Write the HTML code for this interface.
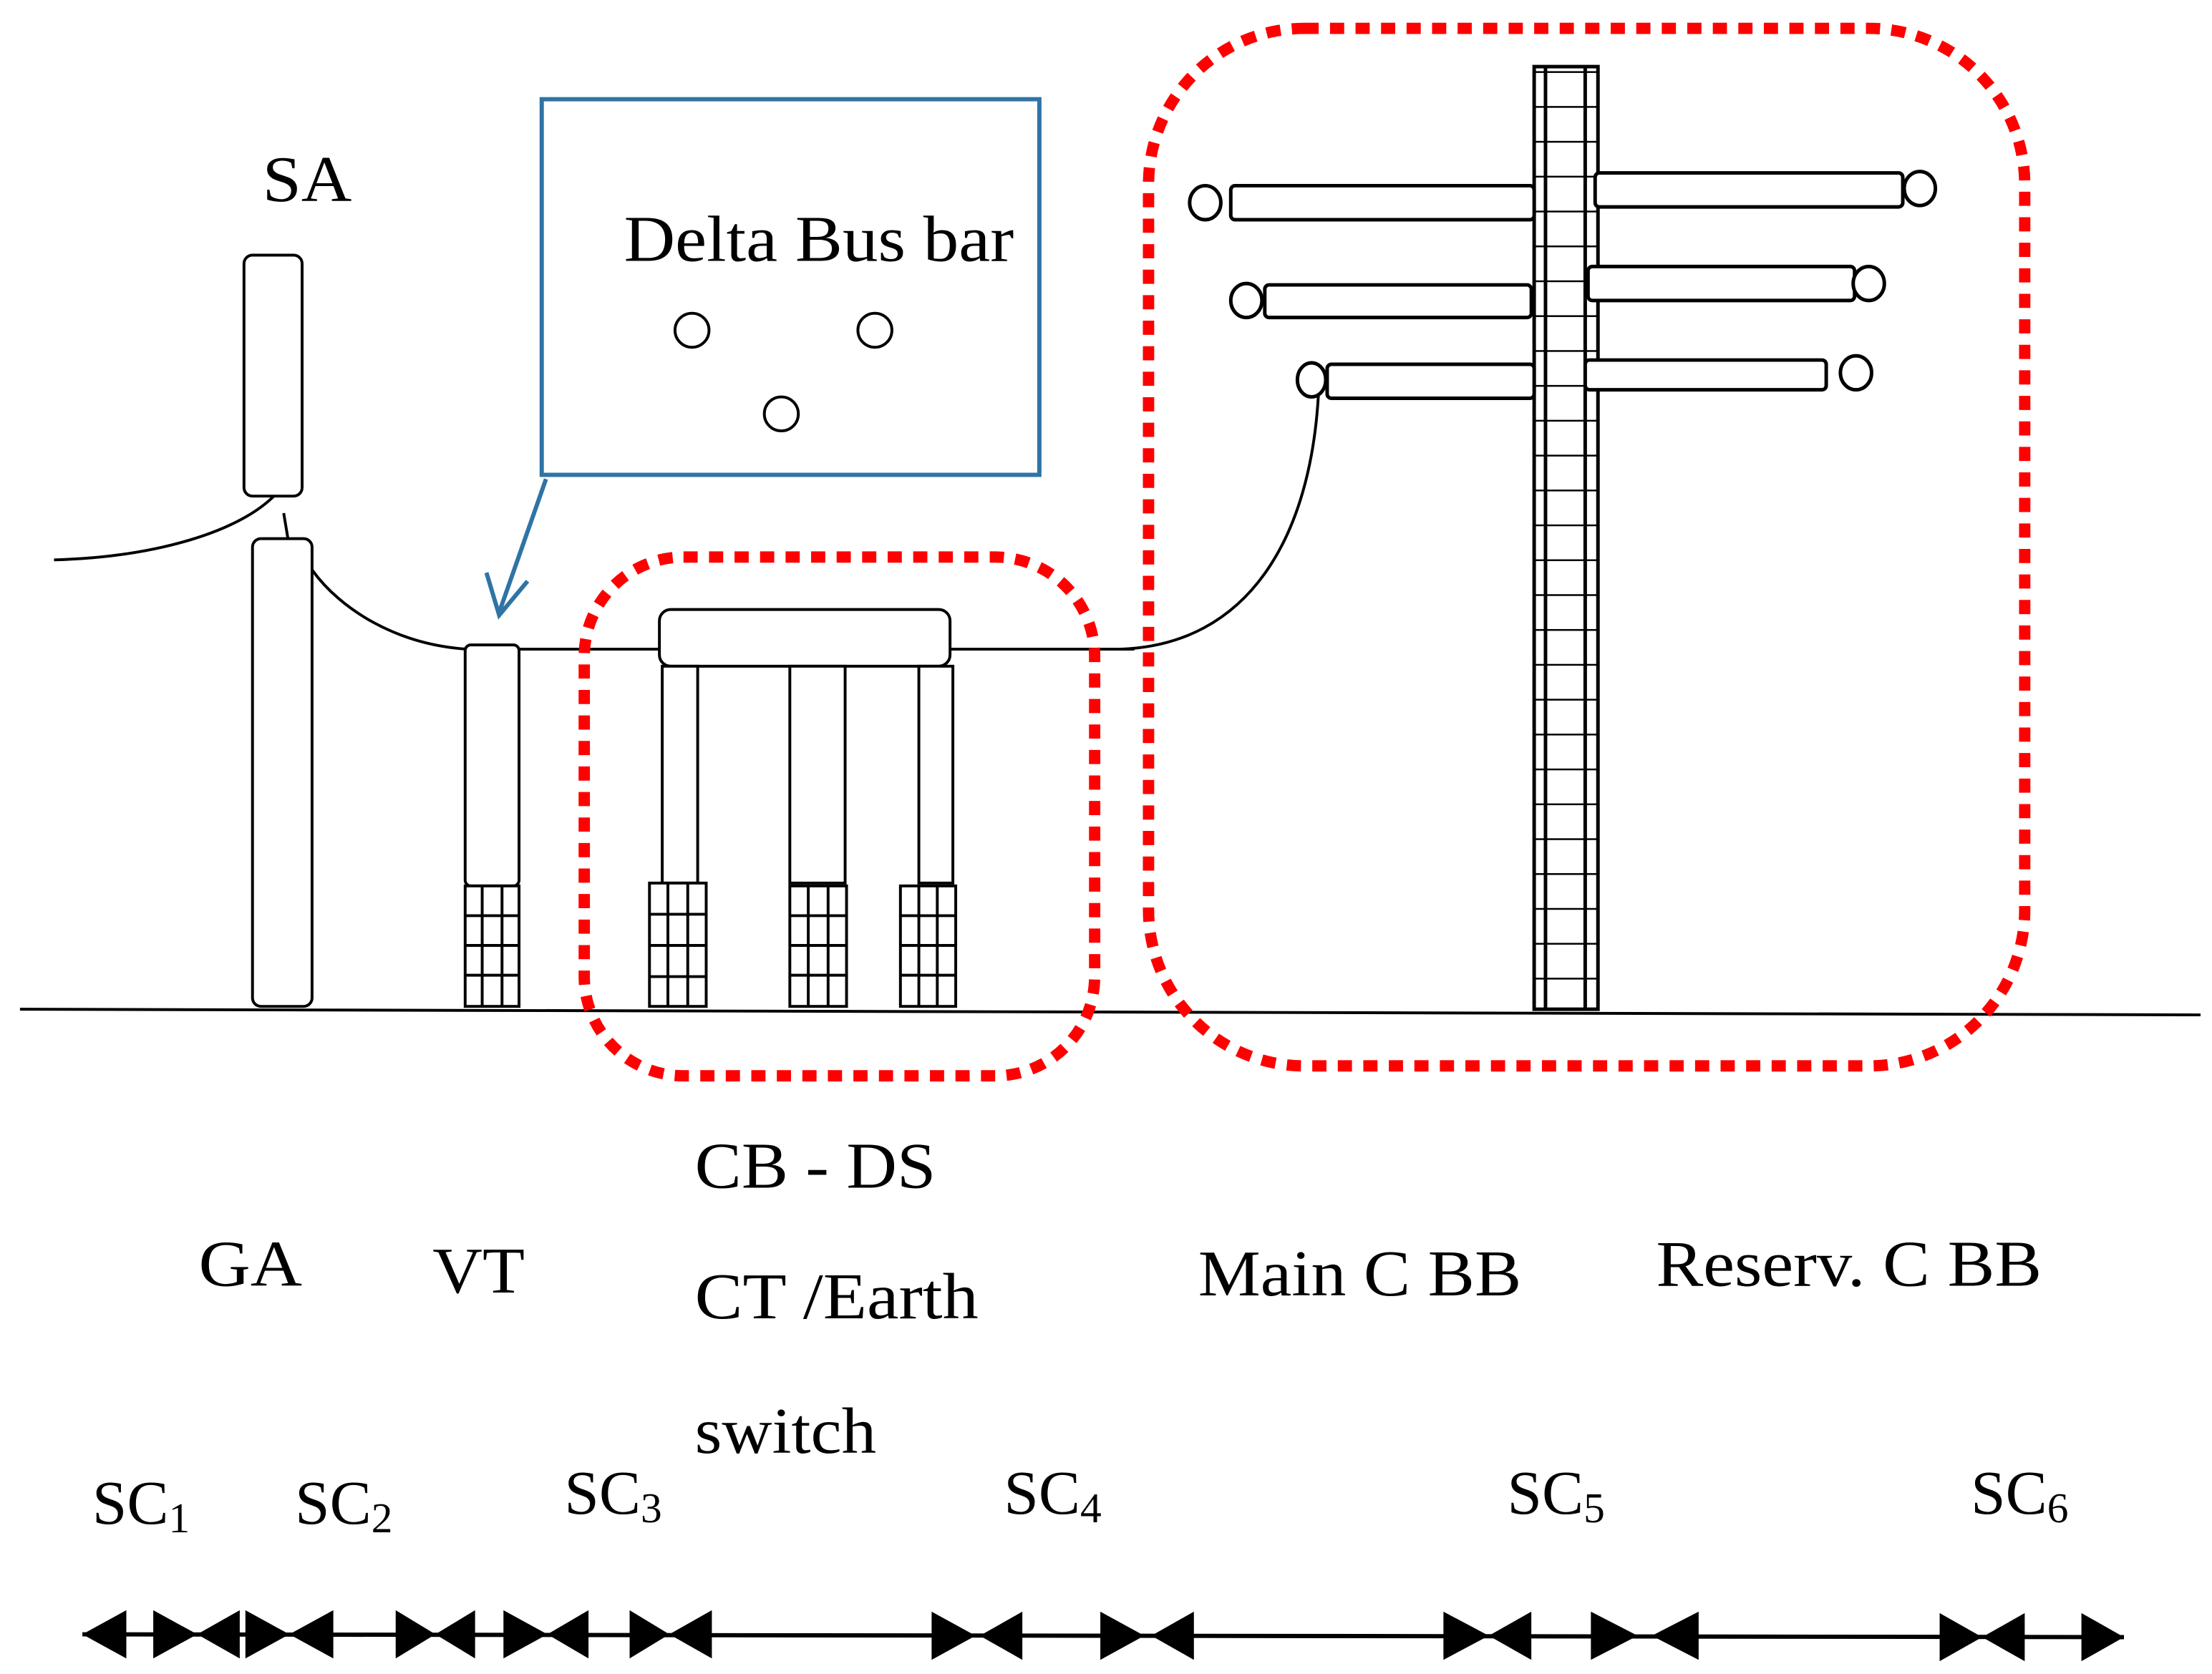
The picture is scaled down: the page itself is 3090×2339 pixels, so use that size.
<!DOCTYPE html>
<html><head><meta charset="utf-8"><style>
html,body{margin:0;padding:0;background:#fff}
svg{display:block}
text{font-family:"Liberation Serif",serif;fill:#000}
</style></head><body>
<svg width="3090" height="2339" viewBox="0 0 1560 1181" xmlns="http://www.w3.org/2000/svg">
<defs>
<pattern id="g" width="100" height="24.6" patternUnits="userSpaceOnUse" y="1">
<line x1="0" y1="0" x2="100" y2="0" stroke="#000" stroke-width="2.5"/>
</pattern>
</defs>
<g fill="none" stroke="#000" stroke-width="2">
<line x1="14" y1="712" x2="1552" y2="716"/>
<path d="M38 395 C110 393 170 375 195 348"/>
<line x1="200" y1="362" x2="203" y2="380"/>
<path d="M220 402 C240 430 280 455 330 458"/>
<line x1="366" y1="458" x2="800" y2="458"/>
<path d="M790 458 C880 455 925 380 930 275"/>
<rect x="172" y="180" width="41" height="170" rx="6" fill="#fff"/>
<rect x="178" y="380" width="42" height="330" rx="6" fill="#fff"/>
<rect x="328" y="455" width="38" height="170" rx="4" fill="#fff"/>
<rect x="465" y="430" width="205" height="40" rx="8" fill="#fff"/>
<rect x="467" y="470" width="25" height="153" fill="#fff"/>
<rect x="557" y="470" width="39" height="153" fill="#fff"/>
<rect x="648" y="470" width="24" height="153" fill="#fff"/>
</g>
<g stroke="#000" stroke-width="2" fill="#fff">
<g><rect x="328" y="625" width="38" height="85"/><line x1="340" y1="625" x2="340" y2="710"/><line x1="354" y1="625" x2="354" y2="710"/><line x1="328" y1="646" x2="366" y2="646"/><line x1="328" y1="667" x2="366" y2="667"/><line x1="328" y1="688" x2="366" y2="688"/></g>
<g><rect x="458" y="623" width="40" height="87"/><line x1="471" y1="623" x2="471" y2="710"/><line x1="485" y1="623" x2="485" y2="710"/><line x1="458" y1="645" x2="498" y2="645"/><line x1="458" y1="667" x2="498" y2="667"/><line x1="458" y1="689" x2="498" y2="689"/></g>
<g><rect x="557" y="625" width="40" height="85"/><line x1="570" y1="625" x2="570" y2="710"/><line x1="584" y1="625" x2="584" y2="710"/><line x1="557" y1="646" x2="597" y2="646"/><line x1="557" y1="667" x2="597" y2="667"/><line x1="557" y1="688" x2="597" y2="688"/></g>
<g><rect x="635" y="625" width="39" height="85"/><line x1="648" y1="625" x2="648" y2="710"/><line x1="661" y1="625" x2="661" y2="710"/><line x1="635" y1="646" x2="674" y2="646"/><line x1="635" y1="667" x2="674" y2="667"/><line x1="635" y1="688" x2="674" y2="688"/></g>
</g>
<g stroke="#000" stroke-width="2.5">
<rect x="1082" y="47" width="45" height="665" fill="url(#g)"/>
<line x1="1090" y1="47" x2="1090" y2="712"/>
<line x1="1118" y1="47" x2="1118" y2="712"/>
</g>
<g stroke="#000" stroke-width="2.5" fill="#fff">
<rect x="868" y="131" width="214" height="24" rx="3"/><ellipse cx="850" cy="143" rx="11" ry="12"/>
<rect x="892" y="201" width="188" height="23" rx="3"/><ellipse cx="879" cy="212" rx="11" ry="12"/>
<rect x="936" y="257" width="146" height="24" rx="3"/><ellipse cx="925" cy="268" rx="10" ry="12"/>
<rect x="1125" y="122" width="217" height="24" rx="3"/><ellipse cx="1354" cy="133" rx="11" ry="12"/>
<rect x="1120" y="188" width="188" height="24" rx="3"/><ellipse cx="1318" cy="200" rx="11" ry="12"/>
<rect x="1118" y="254" width="170" height="21" rx="3"/><ellipse cx="1309" cy="263" rx="11" ry="12"/>
</g>
<rect x="382" y="70" width="351" height="265" fill="#fff" stroke="#2e74a5" stroke-width="3"/>
<path d="M385 338 L352 432" stroke="#2e74a5" stroke-width="3" fill="none"/>
<path d="M343 404 L352 434 L372 410" stroke="#2e74a5" stroke-width="3" fill="none"/>
<text x="440" y="184" font-size="46" textLength="275" lengthAdjust="spacingAndGlyphs">Delta Bus bar</text>
<g fill="#fff" stroke="#000" stroke-width="2"><circle cx="488" cy="233" r="12"/><circle cx="617" cy="233" r="12"/><circle cx="551" cy="292" r="12"/></g>
<rect x="412" y="393" width="360" height="366" rx="70" fill="none" stroke="#f00" stroke-width="8" stroke-dasharray="10 8"/>
<rect x="810" y="20" width="618" height="732" rx="110" fill="none" stroke="#f00" stroke-width="8" stroke-dasharray="10 8"/>
<g font-size="46">
<text x="185" y="142" textLength="63" lengthAdjust="spacingAndGlyphs">SA</text>
<text x="140" y="907" textLength="73" lengthAdjust="spacingAndGlyphs">GA</text>
<text x="305" y="912" textLength="65" lengthAdjust="spacingAndGlyphs">VT</text>
<text x="490" y="838" textLength="170" lengthAdjust="spacingAndGlyphs">CB - DS</text>
<text x="490" y="930" textLength="200" lengthAdjust="spacingAndGlyphs">CT /Earth</text>
<text x="490" y="1025" textLength="128" lengthAdjust="spacingAndGlyphs">switch</text>
<text x="845" y="914" textLength="228" lengthAdjust="spacingAndGlyphs">Main C BB</text>
<text x="1168" y="907" textLength="272" lengthAdjust="spacingAndGlyphs">Reserv. C BB</text>
</g>
<g font-size="44">
<text x="65" y="1075">SC<tspan font-size="30" dy="6">1</tspan></text>
<text x="208" y="1075">SC<tspan font-size="30" dy="6">2</tspan></text>
<text x="398" y="1068">SC<tspan font-size="30" dy="6">3</tspan></text>
<text x="708" y="1068">SC<tspan font-size="30" dy="6">4</tspan></text>
<text x="1063" y="1068">SC<tspan font-size="30" dy="6">5</tspan></text>
<text x="1390" y="1068">SC<tspan font-size="30" dy="6">6</tspan></text>
</g>
<line x1="58" y1="1153" x2="1498" y2="1155" stroke="#000" stroke-width="3"/>
<g fill="#000">
<polygon points="58,1153 89,1136 89,1170"/>
<polygon points="139,1153 108,1136 108,1170"/>
<polygon points="139,1153 169,1136 169,1170"/>
<polygon points="204,1153 173,1136 173,1170"/>
<polygon points="204,1153 235,1136 235,1170"/>
<polygon points="307,1153 279,1136 279,1170"/>
<polygon points="307,1153 335,1136 335,1170"/>
<polygon points="386,1153 355,1136 355,1170"/>
<polygon points="386,1153 415,1136 415,1170"/>
<polygon points="472,1153 444,1136 444,1170"/>
<polygon points="472,1153 502,1136 502,1170"/>
<polygon points="688,1154 657,1137 657,1171"/>
<polygon points="691,1154 721,1137 721,1171"/>
<polygon points="807,1154 776,1137 776,1171"/>
<polygon points="812,1154 842,1137 842,1171"/>
<polygon points="1050,1154 1018,1137 1018,1171"/>
<polygon points="1050,1154 1080,1137 1080,1171"/>
<polygon points="1155,1154 1122,1137 1122,1171"/>
<polygon points="1165,1154 1198,1137 1198,1171"/>
<polygon points="1398,1155 1368,1138 1368,1172"/>
<polygon points="1398,1155 1428,1138 1428,1172"/>
<polygon points="1498,1155 1468,1138 1468,1172"/>
</g>
</svg>
</body></html>
